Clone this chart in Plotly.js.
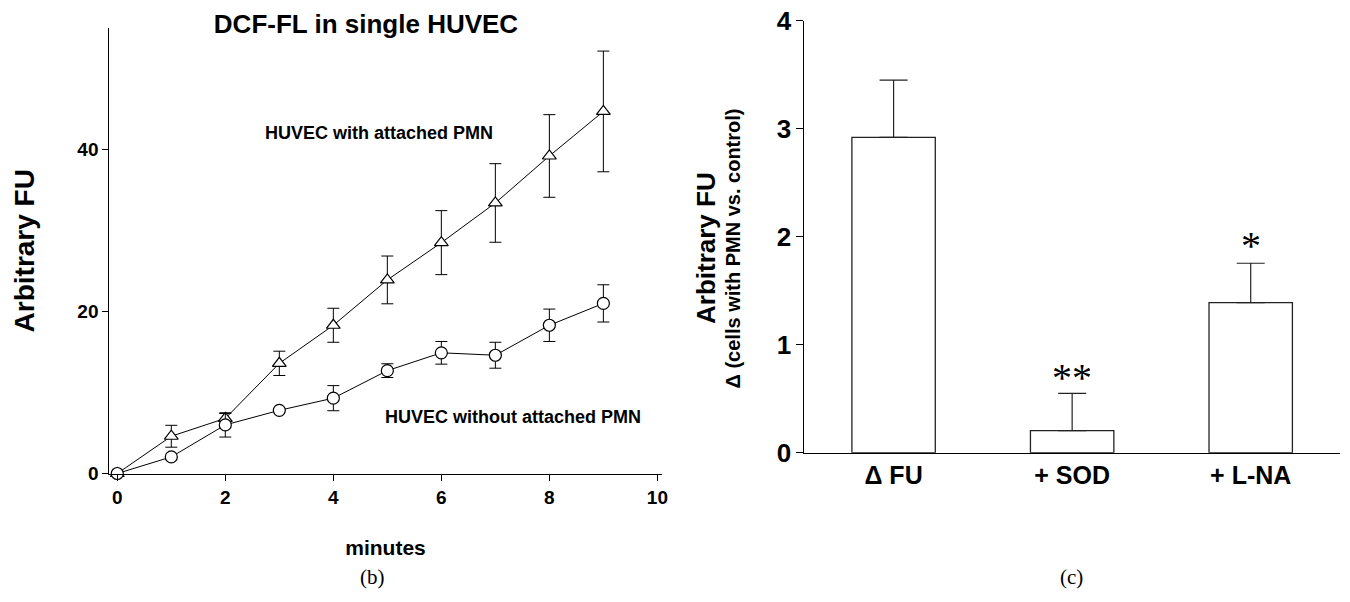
<!DOCTYPE html>
<html>
<head>
<meta charset="utf-8">
<script src="https://cdn.plot.ly/plotly-3.0.1.min.js"></script>
<style>
  html, body { margin: 0; padding: 0; background: #ffffff; }
  #chart { width: 1350px; height: 602px; }
</style>
</head>
<body>
<div id="chart"></div>
<script>
// ---- Panel (b): DCF-FL in single HUVEC ----
var minutes = [0, 1, 2, 3, 4, 5, 6, 7, 8, 9];
var withPMN = [0, 4.6, 6.8, 13.6, 18.3, 23.9, 28.5, 33.4, 39.2, 44.7];
var withPMNErr = [0, 1.35, 0.6, 1.5, 2.1, 2.95, 3.95, 4.85, 5.1, 7.45];
var withoutPMN = [0, 2.05, 6.0, 7.8, 9.3, 12.7, 14.9, 14.6, 18.3, 21.0];
var withoutPMNErr = [0, 0, 1.5, 0, 1.55, 0.85, 1.4, 1.6, 2.0, 2.3];
var xTicksB = [0, 2, 4, 6, 8, 10];
var yTicksB = [0, 20, 40];

// ---- Panel (c): difference bars ----
var categoriesC = ['\u0394 FU', '+ SOD', '+ L-NA'];
var valuesC = [2.92, 0.204, 1.39];
var errorsC = [0.53, 0.346, 0.364];
var sigLabels = ['', '**', '*'];
var sigHeights = [null, 0.78, 2.0];
var yTicksC = [0, 1, 2, 3, 4];

var SANS = 'Liberation Sans, Arial, Helvetica, sans-serif';
var SERIF = 'Liberation Serif, Times New Roman, serif';

var traces = [
  {
    type: 'scatter', mode: 'lines+markers', x: minutes, y: withPMN,
    xaxis: 'x', yaxis: 'y', cliponaxis: false,
    line: {color: '#000', width: 1},
    marker: {symbol: 'triangle-up', size: 12, color: '#fff', line: {color: '#000', width: 1.2}},
    error_y: {type: 'data', array: withPMNErr, visible: true, color: '#000', thickness: 1, width: 6}
  },
  {
    type: 'scatter', mode: 'lines+markers', x: minutes, y: withoutPMN,
    xaxis: 'x', yaxis: 'y', cliponaxis: false,
    line: {color: '#000', width: 1},
    marker: {symbol: 'circle', size: 12, color: '#fff', line: {color: '#000', width: 1.2}},
    error_y: {type: 'data', array: withoutPMNErr, visible: true, color: '#000', thickness: 1, width: 6}
  },
  {
    type: 'bar', x: categoriesC, y: valuesC, xaxis: 'x2', yaxis: 'y2',
    width: 0.467,
    marker: {color: '#fff', line: {color: '#222', width: 1.3}},
    error_y: {type: 'data', symmetric: false, array: errorsC, arrayminus: [0, 0, 0],
              visible: true, color: '#222', thickness: 1.2, width: 14}
  }
];

var annotations = [
  {xref: 'paper', yref: 'paper', x: 379.5 / 1350, y: (602 - 132.5) / 602,
   text: 'HUVEC with attached PMN', showarrow: false, xanchor: 'center', yanchor: 'middle',
   font: {family: SANS, size: 18, color: '#000', weight: 'bold'}},
  {xref: 'paper', yref: 'paper', x: 513 / 1350, y: (602 - 416.7) / 602,
   text: 'HUVEC without attached PMN', showarrow: false, xanchor: 'center', yanchor: 'middle',
   font: {family: SANS, size: 18, color: '#000', weight: 'bold'}},
  {xref: 'paper', yref: 'paper', x: 706 / 1350, y: (602 - 248) / 602,
   text: 'Arbitrary FU', showarrow: false, textangle: -90, xanchor: 'center', yanchor: 'middle',
   font: {family: SANS, size: 26, color: '#000', weight: 'bold'}},
  {xref: 'paper', yref: 'paper', x: 733 / 1350, y: (602 - 248.5) / 602,
   text: '\u0394 (cells with PMN vs. control)', showarrow: false, textangle: -90,
   xanchor: 'center', yanchor: 'middle',
   font: {family: SANS, size: 20, color: '#000', weight: 'bold'}},
  {xref: 'paper', yref: 'paper', x: 372 / 1350, y: (602 - 577) / 602,
   text: '(b)', showarrow: false, xanchor: 'center', yanchor: 'middle',
   font: {family: SERIF, size: 21, color: '#000'}},
  {xref: 'paper', yref: 'paper', x: 1071 / 1350, y: (602 - 577) / 602,
   text: '(c)', showarrow: false, xanchor: 'center', yanchor: 'middle',
   font: {family: SERIF, size: 21, color: '#000'}}
];
for (var i = 0; i < categoriesC.length; i++) {
  if (sigLabels[i]) {
    annotations.push({
      xref: 'x2', yref: 'y2', x: categoriesC[i], y: sigHeights[i],
      text: sigLabels[i], showarrow: false, xanchor: 'center', yanchor: 'middle', yshift: -9,
      font: {family: SERIF, size: 40, color: '#000'}
    });
  }
}

var layout = {
  width: 1350, height: 602,
  margin: {l: 0, r: 0, t: 0, b: 0},
  paper_bgcolor: '#fff', plot_bgcolor: 'rgba(0,0,0,0)',
  showlegend: false,
  title: {text: 'DCF-FL in single HUVEC', x: 366 / 1350, xref: 'paper', xanchor: 'center',
          y: 1 - 24 / 602, yref: 'container', yanchor: 'middle',
          font: {family: SANS, size: 26, color: '#000', weight: 'bold'}},
  xaxis: {
    domain: [109.3 / 1350, 661.7 / 1350], anchor: 'y', range: [-0.148, 10.08],
    tickvals: xTicksB, ticks: 'outside', ticklen: 6, tickcolor: '#000', tickwidth: 1,
    showline: true, linecolor: '#000', linewidth: 1.2, showgrid: false, zeroline: false,
    tickfont: {family: SANS, size: 19, color: '#000', weight: 'bold'},
    title: {text: 'minutes', standoff: 33, font: {family: SANS, size: 21, color: '#000', weight: 'bold'}}
  },
  yaxis: {
    domain: [(602 - 473.5) / 602, (602 - 28) / 602], anchor: 'x', range: [0, 55],
    tickvals: yTicksB, ticks: 'outside', ticklen: 6, tickcolor: '#000', tickwidth: 1,
    showline: true, linecolor: '#000', linewidth: 1, showgrid: false, zeroline: false,
    tickfont: {family: SANS, size: 19, color: '#000', weight: 'bold'},
    title: {text: 'Arbitrary FU', standoff: 34, font: {family: SANS, size: 28, color: '#000', weight: 'bold'}}
  },
  xaxis2: {
    domain: [804.3 / 1350, 1340 / 1350], anchor: 'y2', type: 'category', range: [-0.5, 2.5],
    ticks: '', showline: true, linecolor: '#000', linewidth: 1.3, showgrid: false, zeroline: false,
    tickfont: {family: SANS, size: 25, color: '#000', weight: 'bold'}
  },
  yaxis2: {
    domain: [(602 - 452.7) / 602, (602 - 20.7) / 602], anchor: 'x2', range: [0, 4],
    tickvals: yTicksC, ticks: 'outside', ticklen: 7, tickcolor: '#000', tickwidth: 1,
    showline: true, linecolor: '#000', linewidth: 1, showgrid: false, zeroline: false,
    tickfont: {family: SANS, size: 26, color: '#000', weight: 'bold'}
  },
  annotations: annotations
};

Plotly.newPlot('chart', traces, layout, {displayModeBar: false, staticPlot: true});
</script>
</body>
</html>
